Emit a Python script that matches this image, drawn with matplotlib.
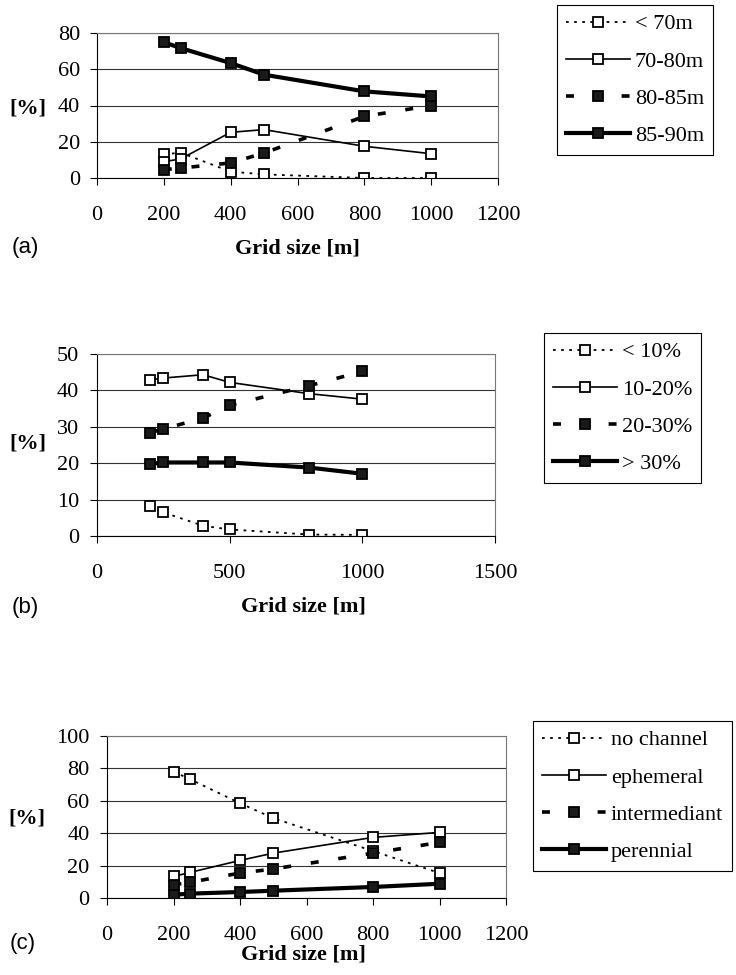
import matplotlib.pyplot as plt

plt.rcParams['font.family'] = ['Liberation Serif', 'DejaVu Serif']
plt.rcParams['font.size'] = 16

W, H = 736, 975

# grid sizes used in all three panels
grid = [200, 250, 400, 500, 800, 1000]

# (a) elevation classes
elev_labels = ['< 70m', '70-80m', '80-85m', '85-90m']
elev_lt70 = [13, 14, 3.5, 2, 0, 0]
elev_70_80 = [9, 10.5, 25.2, 26.7, 17.5, 13.4]
elev_80_85 = [4.6, 5.5, 8.3, 13.8, 34, 40]
elev_85_90 = [74.9, 71.7, 63.4, 57, 47.8, 45]

# (b) slope classes
slope_labels = ['< 10%', '10-20%', '20-30%', '> 30%']
slope_lt10 = [8.3, 6.5, 2.8, 1.8, 0.4, 0.3]
slope_10_20 = [42.9, 43.4, 44.3, 42.2, 39.1, 37.6]
slope_20_30 = [28.4, 29.4, 32.4, 35.9, 41.3, 45.2]
slope_gt30 = [19.8, 20.2, 20.2, 20.2, 18.8, 17.1]

# (c) channel types
chan_labels = ['no channel', 'ephemeral', 'intermediant', 'perennial']
chan_none = [78, 73.3, 58.5, 49.3, 29, 15.4]
chan_ephemeral = [13.3, 15.8, 23.2, 27.7, 37.4, 40.5]
chan_intermediant = [8.2, 9.7, 15.4, 17.9, 27.7, 34.3]
chan_perennial = [2, 2.7, 3.7, 4.5, 6.8, 8.8]

# line style for the 1st..4th class of each panel
styles = [
    dict(linestyle=(0, (1.5, 3)), linewidth=1.3, markerfacecolor='white'),
    dict(linestyle='-', linewidth=1.2, markerfacecolor='white'),
    dict(linestyle=(0, (2.2, 5.5)), linewidth=2.6, markerfacecolor='#1a1a1a'),
    dict(linestyle='-', linewidth=3, markerfacecolor='#1a1a1a'),
]


def px(x, y):
    # pixel position -> figure fraction
    return x / W, 1 - y / H


fig = plt.figure(figsize=(W / 100, H / 100), dpi=100)


def panel(box, series, labels, xmax, xstep, ymax, ystep, tag, tag_xy, xlab_xy, ylab_xy, leg_xy, ypad):
    left, top, right, bottom = box
    ax = fig.add_axes([left / W, 1 - bottom / H, (right - left) / W, (bottom - top) / H])
    for vals, lab, st in zip(series, labels, styles):
        ax.plot(grid, vals, color='black', marker='s', markersize=7.5,
                markeredgecolor='black', markeredgewidth=1.3, label=lab, **st)
    ax.set_xlim(0, xmax)
    ax.set_ylim(0, ymax)
    ax.set_xticks(range(0, xmax + 1, xstep))
    ax.set_yticks(range(0, ymax + 1, ystep))
    ax.yaxis.grid(True, color='#333333', linewidth=0.8)
    ax.set_axisbelow(True)
    for s in ['top', 'right']:
        ax.spines[s].set_color('#777777')
        ax.spines[s].set_linewidth(0.8)
    ax.tick_params(axis='x', direction='out', length=5, pad=15)
    ax.tick_params(axis='y', direction='out', length=5, pad=ypad)

    fig.text(*px(*tag_xy), tag, family='Liberation Sans', fontsize=16, ha='center', va='center')
    fig.text(*px(*xlab_xy), 'Grid size [m]', fontweight='bold', ha='center', va='center')
    fig.text(*px(*ylab_xy), '[%]', fontweight='bold', ha='center', va='center')

    ax.legend(loc='upper left', bbox_to_anchor=px(*leg_xy), bbox_transform=fig.transFigure,
              borderaxespad=0, borderpad=0.4, labelspacing=0.75, handlelength=2.9,
              handletextpad=0.2, numpoints=1, fancybox=False, framealpha=1,
              edgecolor='black')
    ax.get_legend().get_frame().set_linewidth(0.8)
    return ax


panel((97, 33, 498, 178), [elev_lt70, elev_70_80, elev_80_85, elev_85_90], elev_labels,
      1200, 200, 80, 20, '(a)', (25, 247), (297, 248), (28, 108), (557, 5), 7)

panel((97, 354, 495, 536), [slope_lt10, slope_10_20, slope_20_30, slope_gt30], slope_labels,
      1500, 500, 50, 10, '(b)', (25, 607), (303, 607), (28, 443), (544, 333), 8)

panel((107, 736, 506, 898), [chan_none, chan_ephemeral, chan_intermediant, chan_perennial], chan_labels,
      1200, 200, 100, 20, '(c)', (23, 943), (303, 955), (27, 818), (533, 721), 7.5)

fig.savefig('out.png', dpi=100)
